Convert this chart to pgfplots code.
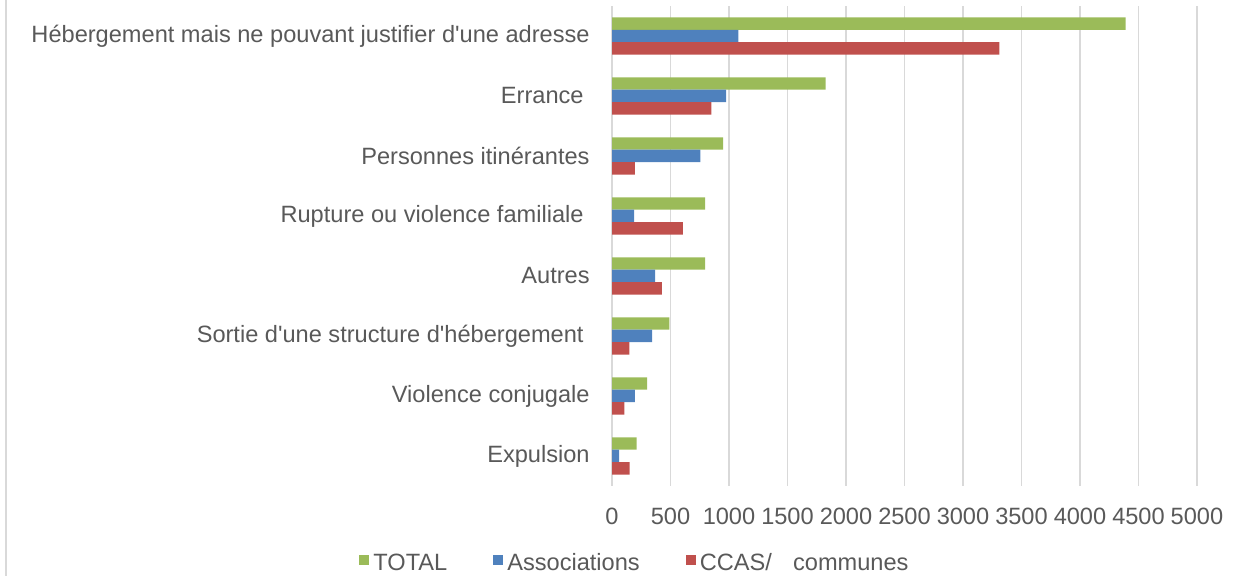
\documentclass[border=0pt]{standalone}
\usepackage{fontspec}
\setmainfont{Liberation Sans}[Ligatures=TeXOff]
\usepackage{pgfplots}
\usepackage{pgfplotstable}
\pgfplotsset{compat=1.18}
\definecolor{totgreen}{HTML}{9BBB59}
\definecolor{assblue}{HTML}{4F81BD}
\definecolor{ccasred}{HTML}{C0504D}
\definecolor{gridgray}{HTML}{D9D9D9}
\definecolor{txtgray}{HTML}{595959}

% y: 0 = Expulsion (bottom) ... 7 = Hebergement (top)
\pgfplotstableread{
y total assoc ccas
0 210 60 150
1 300 195 105
2 490 342 148
3 795 368 427
4 795 190 605
5 950 755 195
6 1825 975 850
7 4390 1080 3310
}\motifs

\newcommand{\lbl}{\fontsize{11.8}{14}\selectfont}
\newcommand{\tsp}{\rule{3pt}{0pt}}

\begin{document}
\begin{tikzpicture}
\begin{axis}[
  scale only axis, width=292.5pt, height=240pt,
  xbar, bar width=0.208,
  xmin=0, xmax=5000, ymin=-0.5, ymax=7.5,
  xtick={0,500,...,5000},
  ytick={0,...,7},
  yticklabels={Expulsion,Violence conjugale,{Sortie d'une structure d'hébergement\tsp},Autres,{Rupture ou violence familiale\tsp},Personnes itinérantes,{Errance\tsp},Hébergement mais ne pouvant justifier d'une adresse},
  xmajorgrids, grid style={gridgray, line width=0.75pt},
  axis line style={draw=none},
  major tick length=0pt,
  tick label style={font=\lbl, text=txtgray},
  /pgf/number format/assume math mode=true,
  /pgf/number format/1000 sep={},
  yticklabel style={inner sep=0pt, xshift=-11pt},
  xticklabel style={inner sep=0pt, yshift=-11pt},
  clip=false,
  legend columns=3,
  legend style={draw=none, fill=none, at={(0.041,-0.162)}, anchor=center,
    font=\lbl, text=txtgray, /tikz/every even column/.append style={column sep=21pt}},
  legend cell align=left,
  sq/.style={legend image code/.code={\fill[##1] (0pt,-0.5pt) rectangle (5pt,4.5pt);}},
]
\addplot[fill=totgreen, draw=none, bar shift=0.208, sq] table[x=total, y=y] {\motifs};
\addlegendentry{TOTAL}
\addplot[fill=assblue, draw=none, bar shift=0, sq] table[x=assoc, y=y] {\motifs};
\addlegendentry{Associations}
\addplot[fill=ccasred, draw=none, bar shift=-0.208, sq] table[x=ccas, y=y] {\motifs};
\addlegendentry{CCAS/\hspace{0.9em}communes}
\draw[gridgray, line width=0.75pt] (axis cs:-5180,-2) -- (axis cs:-5180,7.6);
\coordinate (bl) at (axis cs:-5231,-2.0);
\coordinate (tr) at (axis cs:5453,7.6);
\end{axis}
\pgfresetboundingbox
\path (bl) rectangle (tr);
\end{tikzpicture}
\end{document}
